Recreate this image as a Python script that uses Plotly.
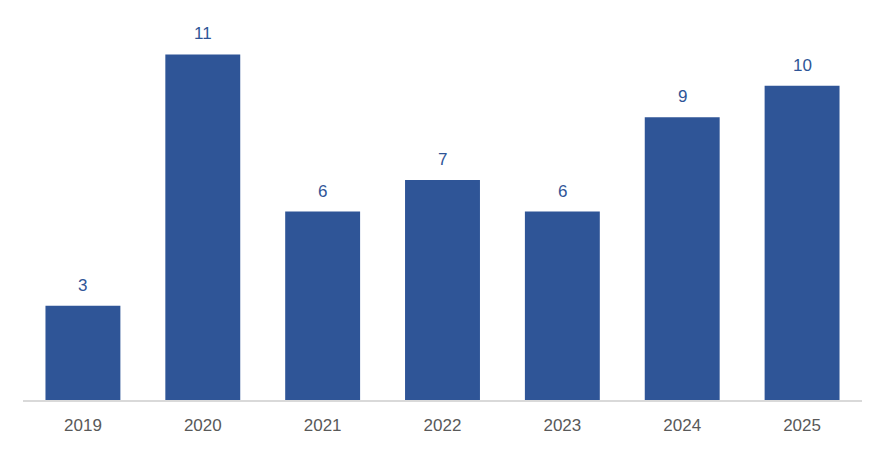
import plotly.graph_objects as go

years = ["2019", "2020", "2021", "2022", "2023", "2024", "2025"]
values = [3, 11, 6, 7, 6, 9, 10]

BAR = "#2F5597"
FONT = "Liberation Sans, Arial, sans-serif"

fig = go.Figure(go.Bar(x=years, y=values, marker=dict(color=BAR, line=dict(width=0)),
                       hoverinfo="skip"))

for i, v in enumerate(values):
    fig.add_annotation(x=i, y=v, xref="x", yref="y", text=str(v), showarrow=False,
                       yanchor="bottom", yshift=9,
                       font=dict(family=FONT, size=17, color=BAR))

fig.update_layout(
    width=886, height=449,
    margin=dict(l=23, r=24, t=23, b=49),
    paper_bgcolor="white", plot_bgcolor="white",
    bargap=0.375, showlegend=False,
    xaxis=dict(type="category", range=[-0.5, len(years) - 0.5], showline=True,
               linecolor="#D9D9D9", linewidth=2,
               showgrid=False, ticks="", ticklabelstandoff=9,
               tickfont=dict(family=FONT, size=17, color="#595959")),
    yaxis=dict(range=[0, 12], visible=False, showgrid=False, zeroline=False),
)

fig.write_html("out.html")
